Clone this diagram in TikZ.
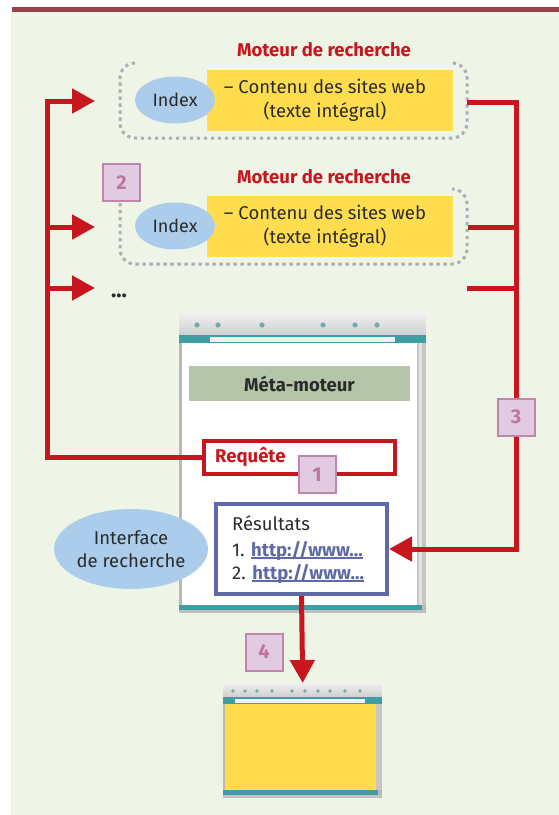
\documentclass[tikz,border=0pt]{standalone}
\usepackage{fontspec}
\setmainfont{Fira Sans}
\usetikzlibrary{arrows.meta,shapes.geometric}
\definecolor{redA}{HTML}{C8161E}
\definecolor{maroon}{HTML}{9A3F4C}
\definecolor{bggreen}{HTML}{EEF5E6}
\definecolor{yellowA}{HTML}{FFDD4F}
\definecolor{idxblue}{HTML}{ABCDEB}
\definecolor{dotgray}{HTML}{B3AAB7}
\definecolor{numfill}{HTML}{E1CBE3}
\definecolor{numdraw}{HTML}{C184AA}
\definecolor{numtext}{HTML}{C0739E}
\definecolor{metag}{HTML}{B5C5A9}
\definecolor{linkblue}{HTML}{5E6AA5}
\definecolor{tealA}{HTML}{3F9EA3}
\definecolor{txt}{HTML}{2B2B2B}
\definecolor{chromeg}{HTML}{B8B8B8}
\newcommand\ulink[1]{\setbox0\hbox{#1}\rlap{\color{linkblue}\rule[-3pt]{\wd0}{1.8pt}}\box0}
\begin{document}
\begin{tikzpicture}[x=1pt,y=-1pt, font=\fontsize{18.5}{24}\selectfont,
 redline/.style={draw=redA, line width=5pt},
 tip/.style={-{Triangle[length=23pt,width=24pt]}},
 dotbox/.style={draw=dotgray, line width=3pt, dash pattern=on 3.3pt off 3.7pt, rounded corners=15pt},
 numbox/.style={draw=numdraw, fill=numfill, line width=2pt, minimum size=37pt, inner sep=0pt, text=numtext, font=\fontsize{20}{20}\selectfont\bfseries},
 idx/.style={ellipse, fill=idxblue, minimum width=80pt, minimum height=47pt, inner sep=0pt, text=txt},
 ybox/.style={fill=yellowA, minimum width=246pt, minimum height=61pt, inner sep=0pt},
 title/.style={text=redA, font=\fontsize{18.5}{20}\selectfont\bfseries},
 body/.style={text=txt, align=center},
 icon/.style={fill=tealA!55!gray!80, draw=none},
]
\useasboundingbox (0,0) rectangle (559,815);
\fill[white] (0,0) rectangle (559,815);
\fill[bggreen] (11,12) rectangle (559,815);
\fill[maroon] (12,7) rectangle (559,12);

% search engine 1
\node[title] (m1) at (324,50) {Moteur de recherche};
\node[ybox, anchor=north west] (y1) at (207,70) {};
\node[idx, font=\fontsize{18}{20}\selectfont] (i1) at (175,100) {Index};
\node[body] (c1) at (325,100) {– Contenu des sites web\\(texte intégral)};
\draw[dotbox] (135,63) -- (120,63) -- (120,138) -- (467,138) -- (467,63) -- (452,63);

% search engine 2
\node[title] (m2) at (324,177) {Moteur de recherche};
\node[ybox, anchor=north west] (y2) at (207,196) {};
\node[idx, font=\fontsize{18}{20}\selectfont] (i2) at (175,226) {Index};
\node[body] (c2) at (325,226) {– Contenu des sites web\\(texte intégral)};
\draw[dotbox] (120,203) -- (120,264) -- (467,264) -- (467,189) -- (452,189);
\node[numbox] (n2) at (121.5,182.5) {2};

\node[text=txt, font=\fontsize{22}{20}\selectfont\bfseries] (dots) at (119,296) {...};

% browser 1
\node[fill=chromeg, minimum width=247pt, minimum height=300pt, inner sep=0pt, anchor=north west] (win1) at (179,313) {};
\shade[top color=gray!12, bottom color=gray!38] (179,313) rectangle (426,335);
\foreach \px in {197,218,262,323,355,377} \fill[icon] (\px,325) circle (2.6);
\fill[tealA] (179,335) rectangle (426,343);
\fill[gray!12] (210,337) rectangle (395,341.5);
\fill[white] (182,343) rectangle (417,605);
\fill[gray!45] (417,343) rectangle (426,605);
\fill[gray!22] (419,343) rectangle (422,605);
\fill[tealA] (179,605) rectangle (422,610);
\fill[gray!50] (179,610) rectangle (426,613);

\node[fill=metag, minimum width=221pt, minimum height=35pt, inner sep=0pt, text=txt, font=\fontsize{18.5}{20}\selectfont\bfseries] (meta) at (299.5,383.5) {Méta-moteur};

\node[draw=redA, line width=4pt, fill=white, minimum width=191pt, minimum height=33pt, inner sep=0pt] (req) at (299.5,457.5) {};
\node[title, anchor=west, inner sep=0pt] (reqt) at (215,457) {Requête};

\node[draw=linkblue, line width=4pt, fill=white, minimum width=171pt, minimum height=90pt, inner sep=0pt] (res) at (301.5,549) {};
\node[text=txt, anchor=base west, inner sep=0pt] (r0) at (232,530) {Résultats};
\node[text=txt, anchor=base west, inner sep=0pt] (r1) at (232,556) {1. \ulink{\textcolor{linkblue}{\bfseries http://www...}}};
\node[text=txt, anchor=base west, inner sep=0pt] (r2) at (232,579) {2. \ulink{\textcolor{linkblue}{\bfseries http://www...}}};

\node[ellipse, fill=idxblue, minimum width=148pt, minimum height=80pt, inner sep=0pt, body, font=\fontsize{18.5}{23}\selectfont] (iface) at (131,549) {Interface\\de recherche};

% browser 2
\node[fill=chromeg, minimum width=159pt, minimum height=115pt, inner sep=0pt, anchor=north west] (win2) at (223,683) {};
\shade[top color=gray!12, bottom color=gray!38] (223,683) rectangle (382,697);
\foreach \px in {233,245,257,272,292,305,318,330,345,360} \fill[icon] (\px,691) circle (1.8);
\fill[tealA] (223,697) rectangle (382,704);
\fill[gray!12] (235,699) rectangle (365,702.5);
\node[fill=yellowA, minimum width=151pt, minimum height=86pt, inner sep=0pt, anchor=north west] (scr2) at (225,704) {};
\fill[gray!45] (376,704) rectangle (382,790);
\fill[tealA] (223,790) rectangle (378,795);
\fill[gray!50] (223,795) rectangle (382,798);

% connectors
\coordinate (bl1) at (47,101);
\coordinate (in1) at (95,101);
\coordinate (bl2) at (47,227);
\coordinate (in2) at (95,227);
\coordinate (bl3) at (47,288);
\coordinate (in3) at (95,288);
\coordinate (o1) at (467,102);
\coordinate (o2) at (468,227);
\coordinate (o3) at (467,288);
\coordinate (br2) at (516,227);
\coordinate (br3) at (516,288);
\coordinate (brb) at (516,549);

\draw[redline, tip] (req.west) -| (bl1) -- (in1);
\draw[redline, tip] (bl2) -- (in2);
\draw[redline, tip] (bl3) -- (in3);
\draw[redline, tip] (o1) -| (brb) -- (res.east);
\draw[redline] (o2) -- (br2);
\draw[redline] (o3) -- (br3);
\draw[redline, tip] (res.south) -- (win2.north);

\node[numbox] (n1) at (317,474.5) {1};
\node[numbox] (n3) at (516,417) {3};
\node[numbox] (n4) at (264,652) {4};
\end{tikzpicture}
\end{document}
